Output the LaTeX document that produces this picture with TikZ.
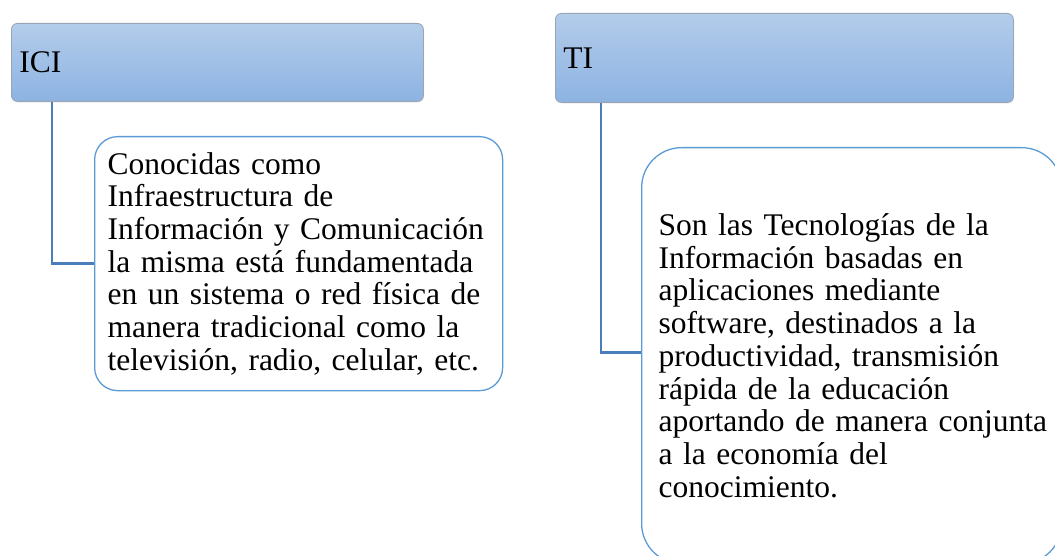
\documentclass[tikz,border=0pt]{standalone}
\usepackage{fontspec}
\setmainfont{Liberation Serif}
\usetikzlibrary{shadows}
\definecolor{hdrtop}{HTML}{B3CCEA}
\definecolor{hdrbot}{HTML}{8DB3E2}
\definecolor{hdredge}{HTML}{9AA6B6}
\definecolor{connc}{HTML}{4A7EBB}
\definecolor{chedge}{HTML}{5B9BD5}
\hyphenpenalty=10000
\exhyphenpenalty=10000
\begin{document}
\begin{tikzpicture}[x=1pt,y=-1pt,
  txt/.style={font=\fontsize{31.5}{32.7}\selectfont, text=black},
  hdr/.style={txt, rectangle, rounded corners=6pt, top color=hdrtop, bottom color=hdrbot,
    draw=hdredge, line width=0.8pt, align=left, anchor=north west, inner xsep=8pt,
    drop shadow={shadow xshift=0.6pt, shadow yshift=-1pt, opacity=0.25}},
  childbox/.style={txt, rectangle, draw=chedge, line width=1.3pt, fill=white,
    align=left, anchor=north west},
  connector/.style={draw=connc, line width=2.4pt}]
\clip (0,0) rectangle (1055,556);
\fill[white] (0,0) rectangle (1055,556);
% headers
\node[hdr, minimum width=412pt, minimum height=78pt, text width=396pt] (ici) at (11,23) {ICI};
\node[hdr, minimum width=458pt, minimum height=89pt, text width=442pt] (ti) at (555,13) {TI};
% children
\node[childbox, rounded corners=23pt, minimum width=408pt, minimum height=254pt,
  text width=382pt, inner xsep=13pt] (icid) at (94,136)
  {Conocidas como\\ Infraestructura de\\ Información y Comunicación\\ la misma está fundamentada\\ en un sistema o red física de\\ manera tradicional como la\\ televisión, radio, celular, etc.};
\node[childbox, rounded corners=40pt, minimum width=420pt, minimum height=416pt,
  text width=386pt, inner xsep=17pt] (tid) at (641,147)
  {Son las Tecnologías de la\\ Información basadas en\\ aplicaciones mediante\\ software, destinados a la\\ productividad, transmisión\\ rápida de la educación\\ \mbox{aportando de manera conjunta}\\ a la economía del\\ conocimiento.};
% connectors
\draw[connector] ([xshift=41pt]ici.south west) |- (icid.west);
\draw[connector] ([xshift=46pt]ti.south west) |- ([yshift=3pt]tid.west);
\end{tikzpicture}
\end{document}
